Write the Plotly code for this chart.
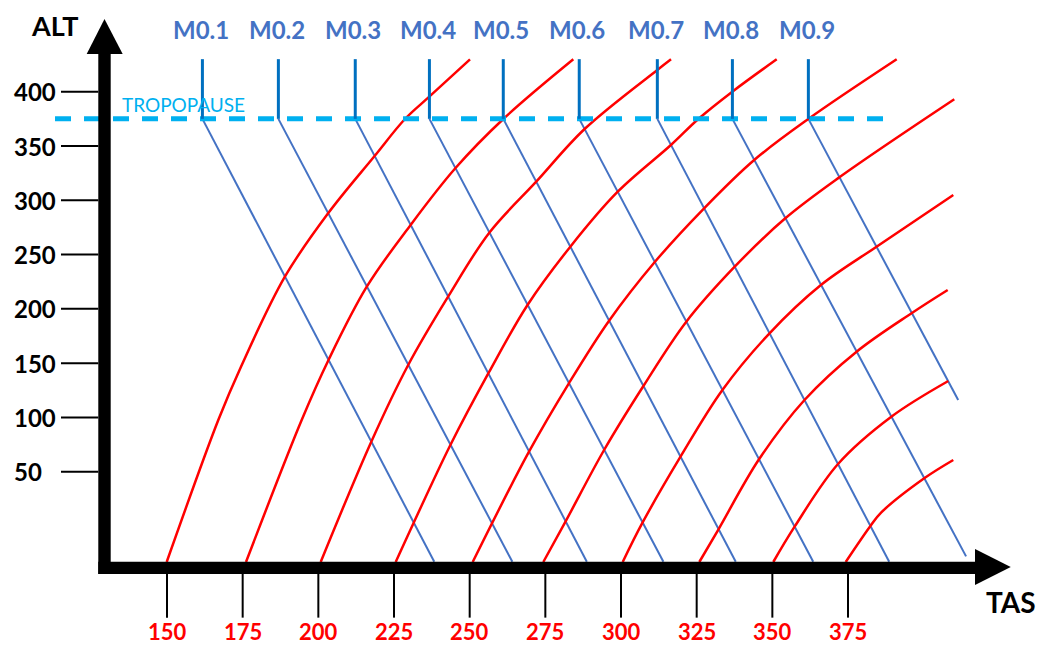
import plotly.graph_objects as go

# ---------------- data (TAS in kt, ALT in hundreds of ft) ----------------
x_tick_vals = [150, 175, 200, 225, 250, 275, 300, 325, 350, 375]
y_tick_vals = [50, 100, 150, 200, 250, 300, 350, 400]

tropopause_alt = 375
mach_top_alt = 430
mach_labels = ["M0.1", "M0.2", "M0.3", "M0.4", "M0.5", "M0.6", "M0.7", "M0.8", "M0.9"]
mach_tas_top = [161.7, 186.8, 212.2, 236.7, 261.1, 286.2, 312.0, 336.8, 361.9]
mach_tas_end = [238.3, 264.1, 288.7, 314.0, 337.9, 363.5, 388.6, 414.0, 411.4]
mach_alt_end = [-33, -33, -33, -33, -33, -33, -33, -28, 116]

# constant-IAS curves (red)
ias1_tas = [149.9, 166.95, 174.45, 188.95, 203.23, 218.59, 228.63, 236.66, 250.11]
ias1_alt = [-33.16, 97.63, 146.73, 229.62, 288.02, 340.80, 374.88, 395.42, 429.86]
ias2_tas = [176.10, 194.50, 203.36, 216.01, 230.48, 245.25, 261.11, 284.24]
ias2_alt = [-33.16, 97.63, 152.90, 220.41, 277.24, 329.47, 374.88, 429.86]
ias3_tas = [200.78, 217.50, 229.69, 242.87, 256.48, 271.98, 287.97, 311.99, 316.52]
ias3_alt = [-33.16, 77.65, 148.29, 211.20, 270.15, 317.12, 365.67, 420.01, 429.86]
ias4_tas = [225.56, 231.51, 243.63, 256.29, 269.11, 283.25, 298.91, 316.49, 325.54, 336.77, 351.44]
ias4_alt = [-33.16, 3.04, 74.61, 141.20, 203.56, 257.26, 307.91, 350.93, 374.88, 400.02, 429.86]
ias5_tas = [251.00, 269.60, 282.78, 296.06, 311.16, 327.45, 344.00, 361.88, 391.08]
ias5_alt = [-33.16, 68.44, 131.44, 189.09, 243.16, 292.62, 337.11, 374.88, 429.86]
ias6_tas = [274.33, 281.66, 294.41, 307.40, 321.57, 337.56, 354.28, 372.15, 410.11]
ias6_alt = [-33.16, 4.05, 70.00, 128.95, 188.17, 238.83, 283.41, 321.17, 393.02]
ias7_tas = [300.56, 307.10, 319.66, 333.50, 349.06, 366.04, 384.41, 409.78]
ias7_alt = [-33.16, 3.04, 63.83, 125.27, 177.49, 221.98, 257.26, 304.87]
ias8_tas = [325.87, 332.21, 345.59, 360.62, 377.83, 396.11, 407.93]
ias8_alt = [-33.16, -3.04, 61.43, 116.05, 160.54, 196.19, 217.37]
ias9_tas = [350.31, 357.35, 371.69, 389.30, 408.13]
ias9_alt = [-33.16, -0.64, 57.11, 100.67, 133.56]
ias10_tas = [374.24, 382.40, 386.0, 400.18, 409.78]
ias10_alt = [-33.16, 0.0, 12.5, 43.93, 60.79]

ias_tas = [ias1_tas, ias2_tas, ias3_tas, ias4_tas, ias5_tas,
           ias6_tas, ias7_tas, ias8_tas, ias9_tas, ias10_tas]
ias_alt = [ias1_alt, ias2_alt, ias3_alt, ias4_alt, ias5_alt,
           ias6_alt, ias7_alt, ias8_alt, ias9_alt, ias10_alt]

# ---------------- styling ----------------
FONT = "Lato"
RED = "#FF0000"
BLUE = "#4472C4"
DBLUE = "#0070C0"
CYAN = "#00B0F0"

# page body has an 8px margin: figure is 1042x638, ranges chosen to line up with the window
X_RANGE = [97.47, 441.73]
Y_RANGE = [-110.53, 477.11]

# axis geometry (in data units)
Y_AXIS_X0, Y_AXIS_X1 = 127.3, 131.4
X_AXIS_Y0, X_AXIS_Y1 = -44.2, -32.9
Y_AXIS_TOP = 434.7
X_AXIS_RIGHT = 416.96

fig = go.Figure()

for xt, xe, ye in zip(mach_tas_top, mach_tas_end, mach_alt_end):
    fig.add_trace(go.Scatter(x=[xt, xe], y=[tropopause_alt, ye], mode="lines",
                             line=dict(color=BLUE, width=2), hoverinfo="skip"))

for t, a in zip(ias_tas, ias_alt):
    fig.add_trace(go.Scatter(x=t, y=a, mode="lines",
                             line=dict(color=RED, width=2.5, shape="spline", smoothing=1.0),
                             hoverinfo="skip"))

fig.add_trace(go.Scatter(x=[113.0, 387.9], y=[tropopause_alt, tropopause_alt], mode="lines",
                         line=dict(color=CYAN, width=5, dash="16px,13px"), hoverinfo="skip"))

for xt in mach_tas_top:
    fig.add_trace(go.Scatter(x=[xt, xt], y=[mach_top_alt, tropopause_alt], mode="lines",
                             line=dict(color=DBLUE, width=3), hoverinfo="skip"))

shapes = []
# axis bars
shapes.append(dict(type="rect", xref="x", yref="y", x0=Y_AXIS_X0, x1=Y_AXIS_X1,
                   y0=X_AXIS_Y0, y1=Y_AXIS_TOP, fillcolor="black", line=dict(width=0)))
shapes.append(dict(type="rect", xref="x", yref="y", x0=Y_AXIS_X0, x1=X_AXIS_RIGHT,
                   y0=X_AXIS_Y0, y1=X_AXIS_Y1, fillcolor="black", line=dict(width=0)))
# arrow heads
shapes.append(dict(type="path", xref="x", yref="y",
                   path=f"M 123.47 {Y_AXIS_TOP} L 135.36 {Y_AXIS_TOP} L 129.35 467.0 Z",
                   fillcolor="black", line=dict(width=0)))
shapes.append(dict(type="path", xref="x", yref="y",
                   path=f"M {X_AXIS_RIGHT} -21.2 L {X_AXIS_RIGHT} -54.3 L 428.76 -37.8 Z",
                   fillcolor="black", line=dict(width=0)))
# tick marks
for v in y_tick_vals:
    shapes.append(dict(type="line", xref="x", yref="y", x0=114.98, x1=Y_AXIS_X0, y0=v, y1=v,
                       line=dict(color="black", width=2)))
for v in x_tick_vals:
    shapes.append(dict(type="line", xref="x", yref="y", x0=v, x1=v, y0=X_AXIS_Y0, y1=-84.4,
                       line=dict(color="black", width=2)))

annotations = []
for v in y_tick_vals:
    annotations.append(dict(x=98.69, y=v, xref="x", yref="y", text=str(v), showarrow=False,
                            xanchor="left", yanchor="middle",
                            font=dict(family=FONT, size=24, color="black", weight="bold")))
for v in x_tick_vals:
    annotations.append(dict(x=v, y=-97.6, xref="x", yref="y", text=str(v), showarrow=False,
                            xanchor="center", yanchor="middle",
                            font=dict(family=FONT, size=22, color=RED, weight="bold")))
for lab, xt in zip(mach_labels, mach_tas_top):
    annotations.append(dict(x=xt - 0.6, y=457.0, xref="x", yref="y", text=lab, showarrow=False,
                            xanchor="center", yanchor="middle",
                            font=dict(family=FONT, size=24, color=BLUE, weight="bold")))
annotations.append(dict(x=113.16, y=461.0, xref="x", yref="y", text="ALT", showarrow=False,
                        xanchor="center", yanchor="middle",
                        font=dict(family=FONT, size=27, color="black", weight="bold")))
annotations.append(dict(x=428.9, y=-70.0, xref="x", yref="y", text="TAS", showarrow=False,
                        xanchor="center", yanchor="middle",
                        font=dict(family=FONT, size=28, color="black", weight="bold")))
annotations.append(dict(x=155.45, y=388.5, xref="x", yref="y", text="TROPOPAUSE", showarrow=False,
                        xanchor="center", yanchor="middle",
                        font=dict(family=FONT, size=19, color=CYAN)))

fig.update_layout(
    width=1042, height=638,
    margin=dict(l=0, r=0, t=0, b=0),
    paper_bgcolor="white", plot_bgcolor="white",
    showlegend=False,
    xaxis=dict(range=X_RANGE, visible=False, fixedrange=True),
    yaxis=dict(range=Y_RANGE, visible=False, fixedrange=True),
    shapes=shapes, annotations=annotations,
)

fig.write_html("out.html")
